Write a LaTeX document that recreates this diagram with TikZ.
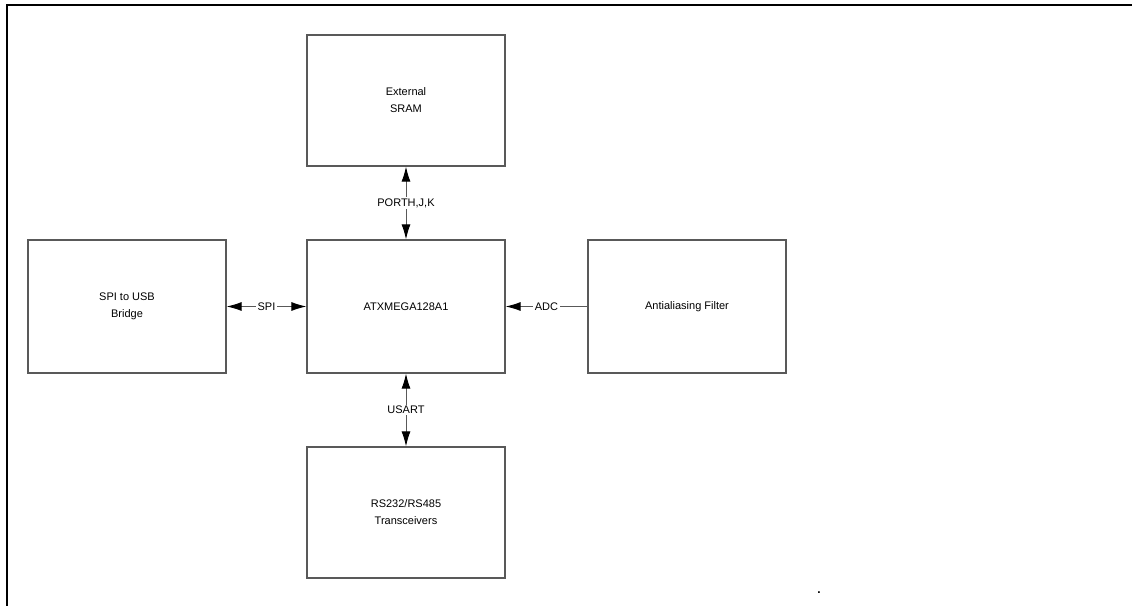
\documentclass[tikz,border=0pt]{standalone}
\usepackage{fontspec}
\setmainfont{Liberation Sans}
\usepackage{tikz}
\usetikzlibrary{arrows.meta}

\tikzset{
  block/.style={draw=black!65, line width=1.3pt, minimum width=198pt, align=center, font=\fontsize{11}{17}\selectfont},
  link/.style={draw=black!65, line width=0.9pt, {Latex[length=15pt,width=9pt,color=black]}-{Latex[length=15pt,width=9pt,color=black]}},
  inlink/.style={draw=black!65, line width=0.9pt, -{Latex[length=15pt,width=9pt,color=black]}},
  tag/.style={fill=white, inner sep=1.5pt, font=\fontsize{11}{13}\selectfont}
}

\begin{document}
\begin{tikzpicture}[x=1pt, y=-1pt]
\useasboundingbox (0,0) rectangle (1132,605);
%%% frame
\draw[line width=2pt, line cap=rect] (1132,5) -- (6.5,5) -- (6.5,605);
%%% blocks
\node[block, minimum height=131pt] (sram) at (406,100.5) {External\\SRAM};
\node[block, minimum height=133pt] (mcu) at (406,306.5) {ATXMEGA128A1};
\node[block, minimum height=133pt] (usb) at (127,306.5) {SPI to USB\\Bridge};
\node[block, minimum height=133pt] (filter) at (687,306.5) {Antialiasing Filter};
\node[block, minimum height=131pt] (xcvr) at (406,512.5) {RS232/RS485\\Transceivers};
%%% buses
\draw[link] (sram) -- node[tag] {PORTH,J,K} (mcu);
\draw[link] (usb) -- node[tag] {SPI} (mcu);
\draw[inlink] (filter) -- node[tag] {ADC} (mcu);
\draw[link] (mcu) -- node[tag] {USART} (xcvr);
% stray dot at the foot
\node[font=\bfseries\fontsize{12}{12}\selectfont] (dot) at (819,593) {.};
\end{tikzpicture}
\end{document}
